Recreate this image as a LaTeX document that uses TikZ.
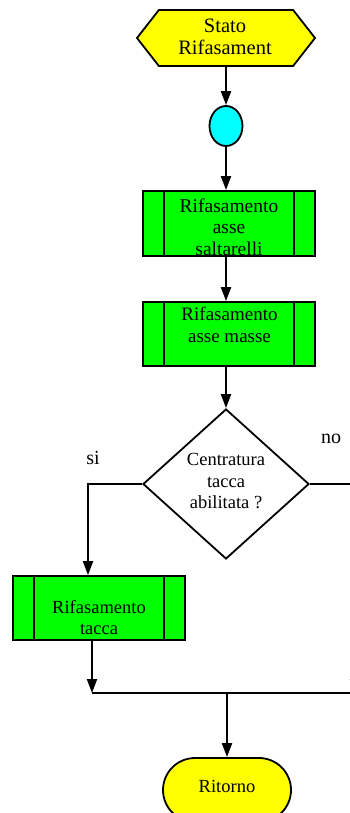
\documentclass[tikz,border=0pt]{standalone}
\usepackage{fontspec}
\setmainfont{Liberation Serif}
\usetikzlibrary{shapes.geometric,shapes.symbols,arrows.meta,calc}

\definecolor{termyellow}{RGB}{255,255,0}
\definecolor{joincyan}{RGB}{0,255,255}
\definecolor{procgreen}{RGB}{0,255,0}

\tikzset{
  conn/.style={line width=2pt},
  arr/.style={conn,-{Triangle[length=14pt,width=10pt]}},
  shapeline/.style={draw,line width=1.8pt,inner sep=0pt},
  subproc/.style={shapeline,rectangle,fill=procgreen,minimum width=172pt,minimum height=65pt,
    path picture={
      \draw[line width=1.8pt] ([xshift=21pt]path picture bounding box.north west) -- ([xshift=21pt]path picture bounding box.south west);
      \draw[line width=1.8pt] ([xshift=-21pt]path picture bounding box.north east) -- ([xshift=-21pt]path picture bounding box.south east);}},
  lbl/.style={inner sep=0pt,align=center,anchor=north},
  word/.style={inner sep=0pt,anchor=base},
}

\begin{document}
\begin{tikzpicture}[x=1pt,y=-1pt]
\useasboundingbox (0,0) rectangle (350,813);

% shapes
\node[shapeline,signal,signal to=west and east,signal pointer angle=104,fill=termyellow,
      minimum width=178pt,minimum height=56pt] (hex) at (226,38) {};
\node[shapeline,ellipse,fill=joincyan,minimum width=33pt,minimum height=40pt] (circ) at (226,126) {};
\node[subproc] (b1) at (229,223.5) {};
\node[subproc,minimum height=64pt] (b2) at (229,334) {};
\node[shapeline,diamond,fill=white,minimum width=166pt,minimum height=150pt] (dia) at (226,484) {};
\node[subproc,minimum height=64pt] (b3) at (99,608) {};
\node[shapeline,rectangle,rounded corners=32pt,fill=termyellow,minimum width=128pt,minimum height=64pt] (ret) at (227,790) {};

% junction points
\coordinate (ml) at (92,693);
\coordinate (rr) at (355,693);

% connectors
\draw[arr] (hex.south) -- (circ.north);
\draw[arr] (circ.south) -- (circ.south |- b1.north);
\draw[arr] (b1.south -| circ) -- (b2.north -| circ);
\draw[arr] (b2.south -| circ) -- (dia.north);
\draw[arr] (dia.west) -| ([xshift=-11pt]b3.north);
\draw[arr] (dia.east) -| (rr);
\draw[arr] ([xshift=-7pt]b3.south) -- (ml);
\draw[conn] (ml) -- (rr);
\draw[arr] (ret.north |- ml) -- (ret.north);

% texts
\node[lbl,font=\fontsize{20.5}{22}\selectfont] (hext) at (225,19) {Stato\\Rifasament};
\node[lbl,font=\fontsize{19.5}{21.3}\selectfont] (b1t) at (229,198.5) {Rifasamento\\asse\\saltarelli};
\node[lbl,font=\fontsize{19}{21.7}\selectfont] (b2t) at (229.5,307) {Rifasamento\\asse masse};
\node[lbl,font=\fontsize{18.5}{21.7}\selectfont] (diat) at (226,453) {Centratura\\tacca\\abilitata ?};
\node[lbl,font=\fontsize{18.5}{21}\selectfont] (b3t) at (99,600.5) {Rifasamento\\tacca};
\node[word,font=\fontsize{18.5}{21}\selectfont] (rett) at (227,792) {Ritorno};
\node[word,font=\fontsize{20}{22}\selectfont] (si) at (93,464) {si};
\node[word,font=\fontsize{20}{22}\selectfont] (no) at (331,443) {no};
\end{tikzpicture}
\end{document}
